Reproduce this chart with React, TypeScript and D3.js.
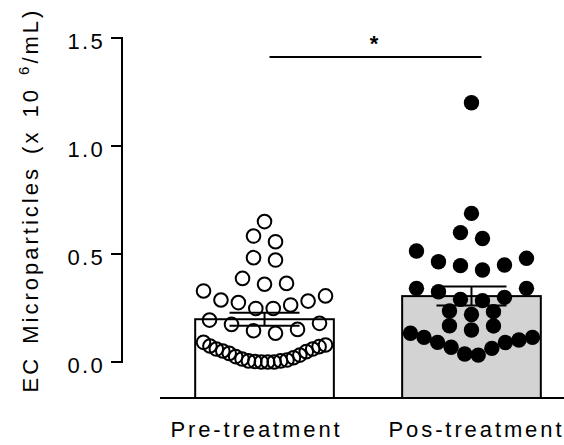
import React from "react";
import * as d3 from "d3";

// groups and values (x 10^6/mL)
const groups = ["Pre-treatment", "Pos-treatment"];
const preValues = [
  0.65, 0.557, 0.583, 0.472, 0.483, 0.364, 0.36, 0.387, 0.306, 0.282, 0.264,
  0.248, 0.248, 0.275, 0.287, 0.329, 0.194, 0.174, 0.145, 0.133, 0.151, 0.179,
  0.091, 0.074, 0.06, 0.051, 0.04, 0.025, 0.014, 0.005, 0.0, 0.0, 0.0, 0.002,
  0.005, 0.009, 0.02, 0.032, 0.048, 0.06, 0.071, 0.079,
];
const posValues = [
  1.2, 0.688, 0.572, 0.599, 0.514, 0.464, 0.446, 0.426, 0.449, 0.48, 0.341,
  0.325, 0.341, 0.299, 0.284, 0.29, 0.236, 0.22, 0.233, 0.167, 0.148, 0.168,
  0.114, 0.102, 0.09, 0.063, 0.032, 0.037, 0.068, 0.091, 0.114, 0.133,
];
const means = [0.198, 0.305];
const sems = [0.03, 0.044];
const yTicks = [0, 0.5, 1.0, 1.5];
const yTickLabels = ["0.0", "0.5", "1.0", "1.5"];
const significance = "*";

const W = 564;
const H = 445;
const font = "'Liberation Sans', Arial, sans-serif";

const y = d3.scaleLinear().domain([0, 1.5]).range([362, 38]);
const x = d3
  .scaleBand()
  .domain(groups)
  .range([160, 576])
  .paddingInner(0.33)
  .paddingOuter(0.17);
const baseY = 398;
const axisX = 122;

// Prism-like scatter: group close values into rows, lowest in the middle
function layout(values: number[], cx: number) {
  const sorted = values.slice().sort((a, b) => a - b);
  const rows: number[][] = [];
  let row: number[] = [];
  sorted.forEach((v) => {
    if (row.length && (v - row[row.length - 1] > 0.035 || v - row[0] > 0.105)) {
      rows.push(row);
      row = [];
    }
    row.push(v);
  });
  if (row.length) rows.push(row);

  const pts: { cx: number; cy: number }[] = [];
  rows.forEach((r) => {
    const n = r.length;
    const step = n > 1 ? Math.min(22, 122 / (n - 1)) : 0;
    const mid = (n - 1) / 2;
    const slots = d3.range(n).sort((a, b) => {
      const da = Math.abs(a - mid);
      const db = Math.abs(b - mid);
      return da !== db ? da - db : b - a;
    });
    r.forEach((v, i) => {
      pts.push({ cx: cx + (slots[i] - mid) * step, cy: y(v) });
    });
  });
  return pts;
}

export default function App() {
  const centers = groups.map((g) => (x(g) as number) + x.bandwidth() / 2);
  const prePts = layout(preValues, centers[0]);
  const posPts = layout(posValues, centers[1]);
  const capHalf = 35;
  const labelShift = [-8, 5];

  return (
    <svg
      width={W}
      height={H}
      style={{ position: "absolute", left: 0, top: 0, background: "#fff" }}
      fontFamily={font}
    >
      {groups.map((g, i) => (
        <rect
          key={g}
          x={x(g)}
          y={y(means[i])}
          width={x.bandwidth()}
          height={baseY - y(means[i])}
          fill={i === 0 ? "#fff" : "#d3d3d3"}
          stroke="#000"
          strokeWidth={2}
        />
      ))}

      {prePts.map((p, i) => (
        <circle key={"a" + i} cx={p.cx} cy={p.cy} r={6.8} fill="none" stroke="#000" strokeWidth={2} />
      ))}
      {posPts.map((p, i) => (
        <circle key={"b" + i} cx={p.cx} cy={p.cy} r={7.7} fill="#000" />
      ))}

      {groups.map((g, i) => {
        const c = centers[i];
        const hi = y(means[i] + sems[i]);
        const lo = y(means[i] - sems[i]);
        return (
          <g key={"e" + g} stroke="#000" strokeWidth={2}>
            <line x1={c} x2={c} y1={hi} y2={lo} />
            <line x1={c - capHalf} x2={c + capHalf} y1={hi} y2={hi} />
            <line x1={c - capHalf} x2={c + capHalf} y1={lo} y2={lo} />
          </g>
        );
      })}

      {/* y axis */}
      <line x1={axisX} x2={axisX} y1={y(1.5) - 1} y2={y(0) + 1} stroke="#000" strokeWidth={2} />
      {yTicks.map((t, i) => (
        <g key={"t" + t}>
          <line x1={axisX - 11} x2={axisX} y1={y(t)} y2={y(t)} stroke="#000" strokeWidth={2} />
          <text
            x={axisX - 17}
            y={y(t) + 11}
            textAnchor="end"
            fontSize={22}
            letterSpacing={2.3}
          >
            {yTickLabels[i]}
          </text>
        </g>
      ))}

      {/* x axis */}
      <line x1={160} x2={W} y1={baseY} y2={baseY} stroke="#000" strokeWidth={2} />
      {groups.map((g, i) => (
        <text
          key={"l" + g}
          x={centers[i] + labelShift[i]}
          y={437}
          textAnchor="middle"
          fontSize={22}
          letterSpacing={2.9}
        >
          {g}
        </text>
      ))}

      {/* y title */}
      <text
        transform={`translate(38,${(y(0) + y(1.5)) / 2}) rotate(-90)`}
        textAnchor="middle"
        fontSize={22}
        letterSpacing={3}
        wordSpacing={3}
      >
        {"EC Microparticles (x 10 "}
        <tspan fontSize={15} dy={-9}>6</tspan>
        <tspan dy={9}>/mL)</tspan>
      </text>

      {/* significance */}
      <line
        x1={centers[0] + 5}
        x2={centers[1] + 10}
        y1={y(1.412)}
        y2={y(1.412)}
        stroke="#000"
        strokeWidth={2}
      />
      <text
        x={(centers[0] + centers[1]) / 2 + 6}
        y={51}
        textAnchor="middle"
        fontSize={22}
        fontWeight="bold"
      >
        {significance}
      </text>
    </svg>
  );
}
